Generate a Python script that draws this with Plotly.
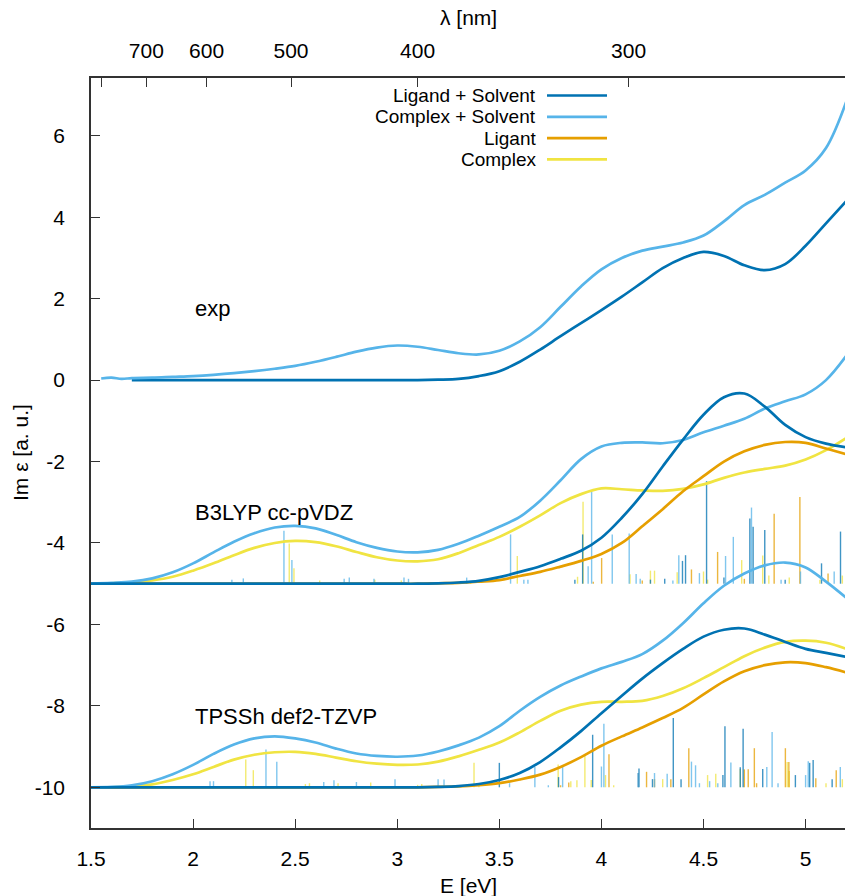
import plotly.graph_objects as go

# ---------------- energy grid (eV) ----------------
E = [1.5, 1.6, 1.7, 1.8, 1.9, 2.0, 2.1, 2.2, 2.3, 2.4, 2.5, 2.6, 2.7, 2.8, 2.9,
     3.0, 3.1, 3.2, 3.3, 3.4, 3.5, 3.6, 3.7, 3.8, 3.9, 4.0, 4.1, 4.2, 4.3, 4.4,
     4.5, 4.6, 4.7, 4.8, 4.9, 5.0, 5.1, 5.2]

# ---------------- experimental spectra ----------------
exp_lig_E = E[2:]
exp_lig = [0.0, 0.0, 0.0, 0.0, 0.0, 0.0, 0.0, 0.0, 0.0, 0.0, 0.0, 0.0, 0.0,
           0.0, 0.0, 0.01, 0.03, 0.1, 0.22, 0.45, 0.75, 1.08, 1.4, 1.72, 2.05,
           2.4, 2.75, 3.0, 3.15, 3.05, 2.82, 2.7, 2.85, 3.3, 3.85, 4.4]
exp_cpx_E = [1.55, 1.6, 1.65] + E[2:]
exp_cpx = [0.04, 0.06, 0.03,
           0.05, 0.06, 0.08, 0.1, 0.13, 0.17, 0.22, 0.28, 0.35, 0.45, 0.57,
           0.7, 0.8, 0.85, 0.82, 0.74, 0.66, 0.63, 0.72, 0.95, 1.3, 1.8, 2.3,
           2.72, 3.0, 3.18, 3.28, 3.38, 3.55, 3.9, 4.3, 4.55, 4.85, 5.15, 5.7,
           6.85]

# ---------------- B3LYP cc-pVDZ (offset -5) ----------------
b3_lig = [-5.0, -5.0, -5.0, -5.0, -5.0, -5.0, -5.0, -5.0, -5.0, -5.0, -5.0,
          -5.0, -5.0, -5.0, -5.0, -5.0, -5.0, -4.99, -4.97, -4.93, -4.84,
          -4.71, -4.57, -4.39, -4.19, -3.87, -3.38, -2.8, -2.12, -1.46, -0.85,
          -0.42, -0.33, -0.65, -1.1, -1.4, -1.56, -1.65]
b3_cpx_solv = [-5.0, -4.98, -4.95, -4.87, -4.72, -4.5, -4.23, -3.97, -3.76,
               -3.62, -3.58, -3.64, -3.8, -3.98, -4.12, -4.21, -4.23, -4.17,
               -4.02, -3.82, -3.6, -3.36, -2.96, -2.46, -1.94, -1.63, -1.54,
               -1.53, -1.55, -1.47, -1.28, -1.12, -0.95, -0.7, -0.52, -0.35,
               0.0, 0.6]
b3_ligant = [-5.0, -5.0, -5.0, -5.0, -5.0, -5.0, -5.0, -5.0, -5.0, -5.0, -5.0,
             -5.0, -5.0, -5.0, -5.0, -5.0, -5.0, -4.99, -4.98, -4.95, -4.91,
             -4.81, -4.71, -4.58, -4.44, -4.27, -4.0, -3.59, -3.17, -2.73,
             -2.36, -2.0, -1.75, -1.59, -1.52, -1.54, -1.68, -1.82]
b3_cpx = [-5.0, -4.99, -4.97, -4.92, -4.83, -4.68, -4.5, -4.3, -4.12, -4.0,
          -3.95, -3.98, -4.08, -4.22, -4.35, -4.43, -4.45, -4.4, -4.25, -4.05,
          -3.85, -3.6, -3.32, -3.02, -2.8, -2.66, -2.68, -2.71, -2.72, -2.67,
          -2.56, -2.4, -2.27, -2.18, -2.1, -1.95, -1.72, -1.42]

# ---------------- TPSSh def2-TZVP (offset -10) ----------------
tp_lig = [-10.0, -10.0, -10.0, -10.0, -10.0, -10.0, -10.0, -10.0, -10.0, -10.0,
          -10.0, -10.0, -10.0, -10.0, -10.0, -10.0, -10.0, -9.99, -9.97, -9.92,
          -9.82, -9.65, -9.38, -9.02, -8.62, -8.18, -7.75, -7.33, -6.95, -6.6,
          -6.3, -6.13, -6.1, -6.25, -6.43, -6.6, -6.7, -6.8]
tp_cpx_solv = [-10.0, -9.99, -9.95, -9.85, -9.68, -9.45, -9.18, -8.95, -8.8,
               -8.75, -8.8, -8.9, -9.05, -9.17, -9.23, -9.25, -9.22, -9.12,
               -8.97, -8.78, -8.5, -8.12, -7.78, -7.5, -7.28, -7.08, -6.92,
               -6.73, -6.4, -5.97, -5.48, -5.05, -4.75, -4.55, -4.48, -4.6,
               -4.95, -5.35]
tp_ligant = [-10.0, -10.0, -10.0, -10.0, -10.0, -10.0, -10.0, -10.0, -10.0,
             -10.0, -10.0, -10.0, -10.0, -10.0, -10.0, -10.0, -10.0, -9.99,
             -9.98, -9.95, -9.9, -9.81, -9.69, -9.5, -9.26, -8.98, -8.75,
             -8.53, -8.3, -8.05, -7.72, -7.4, -7.15, -7.0, -6.93, -6.95, -7.05,
             -7.18]
tp_cpx = [-10.0, -10.0, -9.98, -9.93, -9.82, -9.68, -9.5, -9.32, -9.2, -9.14,
          -9.13, -9.18, -9.27, -9.36, -9.42, -9.45, -9.44, -9.37, -9.24, -9.08,
          -8.9, -8.65, -8.37, -8.12, -7.97, -7.9, -7.9, -7.88, -7.76, -7.57,
          -7.32, -7.05, -6.78, -6.57, -6.43, -6.4, -6.45, -6.6]

# ---------------- stick spectra: (energy eV, intensity a.u.) ----------------
b3_base = -5.0
b3_sticks_lig_E = [3.87, 3.908, 4.24, 4.31, 4.397, 4.412, 4.515, 4.6, 4.727,
                   4.743, 4.8, 4.9, 5.078, 5.171]
b3_sticks_lig_I = [0.1, 1.21, 0.1, 0.12, 0.56, 0.7, 2.52, 0.15, 1.6, 1.4,
                   1.32, 0.1, 0.5, 1.28]
b3_sticks_cs_E = [2.19, 2.246, 2.445, 2.484, 2.74, 2.765, 2.886, 3.033, 3.055,
                  3.34, 3.555, 3.62, 3.64, 3.935, 3.952, 4.053, 4.136, 4.17,
                  4.19, 4.35, 4.379, 4.48, 4.608, 4.646, 4.735, 4.88, 4.975,
                  5.14]
b3_sticks_cs_I = [0.1, 0.13, 1.3, 0.58, 0.12, 0.15, 0.12, 0.15, 0.12, 0.15,
                  1.21, 0.1, 0.1, 0.43, 2.26, 1.21, 1.23, 0.24, 0.12, 0.08,
                  0.7, 0.26, 0.68, 1.15, 1.87, 0.1, 0.3, 0.3]
b3_sticks_lt_E = [3.96, 4.001, 4.2, 4.441, 4.569, 4.7, 4.846, 4.972, 5.11]
b3_sticks_lt_I = [0.05, 0.63, 0.08, 0.35, 0.78, 0.12, 1.72, 2.13, 0.25]
b3_sticks_cx_E = [2.471, 2.494, 2.62, 2.89, 3.02, 3.36, 3.588, 3.883, 3.91,
                  4.14, 4.24, 4.26, 4.371, 4.5, 4.52, 4.687, 4.79, 4.82, 4.92,
                  5.07, 5.18]
b3_sticks_cx_I = [0.99, 0.38, 0.08, 0.1, 0.08, 0.05, 0.68, 0.17, 2.01, 0.23,
                  0.32, 0.32, 0.28, 0.3, 0.1, 0.58, 0.69, 0.2, 0.15, 0.1, 0.2]

tp_base = -10.0
tp_sticks_lig_E = [3.5, 3.79, 3.957, 4.18, 4.184, 4.25, 4.352, 4.39, 4.595,
                   4.605, 4.68, 4.694, 4.79, 4.95, 5.02, 5.037, 5.13]
tp_sticks_lig_I = [0.6, 0.25, 1.29, 0.35, 0.46, 0.2, 1.7, 0.2, 0.3, 1.5, 0.49,
                   1.44, 0.45, 0.3, 0.6, 0.67, 0.2]
tp_sticks_cs_E = [2.083, 2.1, 2.357, 2.41, 2.64, 2.69, 2.8, 2.989, 3.2, 3.229,
                  3.55, 3.674, 3.74, 3.81, 4.0, 4.012, 4.26, 4.322, 4.441,
                  4.461, 4.48, 4.53, 4.57, 4.634, 4.81, 4.836, 4.865, 5.0,
                  5.013, 5.17]
tp_sticks_cs_I = [0.15, 0.15, 0.93, 0.63, 0.13, 0.17, 0.13, 0.2, 0.2, 0.19,
                  0.1, 0.5, 0.05, 0.54, 0.51, 1.56, 0.35, 0.33, 0.63, 0.54,
                  0.1, 0.15, 0.1, 0.61, 0.5, 1.36, 0.1, 0.3, 0.64, 0.5]
tp_sticks_lt_E = [3.8, 3.84, 4.037, 4.221, 4.26, 4.34, 4.428, 4.70, 4.719,
                  4.749, 4.76, 4.901, 4.918, 5.05, 5.15]
tp_sticks_lt_I = [0.05, 0.12, 0.81, 0.38, 0.2, 0.2, 0.96, 0.44, 0.44, 0.96,
                  0.1, 0.96, 0.62, 0.22, 0.42]
tp_sticks_cx_E = [2.258, 2.295, 2.55, 2.57, 2.71, 2.87, 3.1, 3.12, 3.376, 3.4,
                  3.788, 3.85, 3.88, 3.919, 3.95, 4.02, 4.06, 4.3, 4.52, 4.56,
                  4.68, 4.91, 4.92, 5.1, 5.18]
tp_sticks_cx_I = [0.68, 0.42, 0.08, 0.1, 0.1, 0.12, 0.06, 0.08, 0.6, 0.1,
                  0.56, 0.15, 0.17, 0.82, 0.18, 0.3, 0.05, 0.2, 0.3, 0.33,
                  0.45, 0.62, 0.4, 0.1, 0.2]

# wavelength ticks for the top axis (800 nm carries no label)
lambda_ticks_nm = [800, 700, 600, 500, 400, 300]
lambda_labels = ["", "700", "600", "500", "400", "300"]
HC_EV_NM = 1239.84

series_names = ["Ligand + Solvent", "Complex + Solvent", "Ligant", "Complex"]
colors = ["#0072B2", "#56B4E9", "#E69F00", "#F0E442"]

FONT = "Liberation Sans, Arial, Helvetica, sans-serif"
X_RANGE = [1.5, 5.193]
Y_RANGE = [-11.0, 7.42]

fig = go.Figure()


def stick_trace(energies, intens, base, color):
    xs, ys = [], []
    for e, i in zip(energies, intens):
        xs += [e, e, None]
        ys += [base, base + i, None]
    return go.Scatter(x=xs, y=ys, mode="lines", opacity=0.75,
                      line=dict(color=color, width=1.4),
                      hoverinfo="skip", showlegend=False)


stick_sets = [
    (b3_sticks_cx_E, b3_sticks_cx_I, b3_base, colors[3]),
    (b3_sticks_lt_E, b3_sticks_lt_I, b3_base, colors[2]),
    (b3_sticks_cs_E, b3_sticks_cs_I, b3_base, colors[1]),
    (b3_sticks_lig_E, b3_sticks_lig_I, b3_base, colors[0]),
    (tp_sticks_cx_E, tp_sticks_cx_I, tp_base, colors[3]),
    (tp_sticks_lt_E, tp_sticks_lt_I, tp_base, colors[2]),
    (tp_sticks_cs_E, tp_sticks_cs_I, tp_base, colors[1]),
    (tp_sticks_lig_E, tp_sticks_lig_I, tp_base, colors[0]),
]
for se, si, base, col in stick_sets:
    fig.add_trace(stick_trace(se, si, base, col))

curves = [
    (exp_lig_E, exp_lig, colors[0]),
    (exp_cpx_E, exp_cpx, colors[1]),
    (E, b3_cpx, colors[3]),
    (E, b3_ligant, colors[2]),
    (E, b3_cpx_solv, colors[1]),
    (E, b3_lig, colors[0]),
    (E, tp_cpx, colors[3]),
    (E, tp_ligant, colors[2]),
    (E, tp_cpx_solv, colors[1]),
    (E, tp_lig, colors[0]),
]
for cx, cy, col in curves:
    fig.add_trace(go.Scatter(x=cx, y=cy, mode="lines",
                             line=dict(color=col, width=2.7, shape="spline",
                                       smoothing=1.0),
                             hoverinfo="skip", showlegend=False))

# invisible trace to activate the top wavelength axis
fig.add_trace(go.Scatter(x=X_RANGE, y=[None, None], xaxis="x2",
                         mode="lines", showlegend=False, hoverinfo="skip"))

AXCOL = "#333333"
x_ticks = [1.5, 2.0, 2.5, 3.0, 3.5, 4.0, 4.5, 5.0]
y_ticks = [-10, -8, -6, -4, -2, 0, 2, 4, 6]
TICKFONT = dict(size=21)

fig.update_layout(
    width=845, height=896,
    margin=dict(l=91, r=0, t=78, b=68),
    paper_bgcolor="white", plot_bgcolor="white",
    font=dict(family=FONT, size=21, color="black"),
    showlegend=False,
    xaxis=dict(range=X_RANGE, tickvals=x_ticks,
               ticktext=[f"{v:g}" for v in x_ticks], tickfont=TICKFONT,
               ticks="inside", ticklen=9, tickwidth=1.2, tickcolor=AXCOL,
               showline=True, linecolor=AXCOL, linewidth=1.6,
               showgrid=False, zeroline=False, ticklabelstandoff=11),
    xaxis2=dict(range=X_RANGE, overlaying="x", side="top",
                tickvals=[HC_EV_NM / l for l in lambda_ticks_nm],
                ticktext=lambda_labels, tickfont=TICKFONT,
                ticks="inside", ticklen=9, tickwidth=1.2, tickcolor=AXCOL,
                showline=True, linecolor=AXCOL, linewidth=1.6,
                showgrid=False, zeroline=False, ticklabelstandoff=10),
    yaxis=dict(range=Y_RANGE, tickvals=y_ticks,
               ticktext=[str(v) for v in y_ticks], tickfont=TICKFONT,
               ticks="inside", ticklen=9, tickwidth=1.2, tickcolor=AXCOL,
               showline=True, linecolor=AXCOL, linewidth=1.6,
               showgrid=False, zeroline=False, ticklabelstandoff=20),
)

# axis titles
fig.add_annotation(text="E [eV]", xref="paper", yref="paper", x=0.5,
                   y=-(885 - 828) / 750, xanchor="center", yanchor="middle",
                   showarrow=False, font=dict(size=21))
fig.add_annotation(text="λ [nm]", xref="paper", yref="paper", x=0.5,
                   y=(828 - 18) / 750, xanchor="center", yanchor="middle",
                   showarrow=False, font=dict(size=21))
fig.add_annotation(text="Im ε [a. u.]", xref="paper", yref="paper",
                   x=(20 - 91) / 754, y=0.5, xanchor="center",
                   yanchor="middle", textangle=-90, showarrow=False,
                   font=dict(size=21))

# method labels
for label, ylab in [("exp", 1.77), ("B3LYP cc-pVDZ", -3.24),
                    ("TPSSh def2-TZVP", -8.25)]:
    fig.add_annotation(text=label, x=2.0, y=ylab, xref="x", yref="y",
                       xanchor="left", yanchor="middle", showarrow=False,
                       font=dict(size=22))

# key, top centre: text right-aligned, sample line to the right
key_rows_px = [95.5, 116.8, 138.1, 159.4]
for name, col, py in zip(series_names, colors, key_rows_px):
    yp = (828 - py) / 750
    fig.add_annotation(text=name, xref="paper", yref="paper",
                       x=(537 - 91) / 754, y=yp, xanchor="right",
                       yanchor="middle", showarrow=False, borderpad=0,
                       font=dict(size=19))
    fig.add_shape(type="line", xref="paper", yref="paper",
                  x0=(547 - 91) / 754, x1=(607 - 91) / 754, y0=yp, y1=yp,
                  line=dict(color=col, width=2.7))

fig.write_html("out.html")
